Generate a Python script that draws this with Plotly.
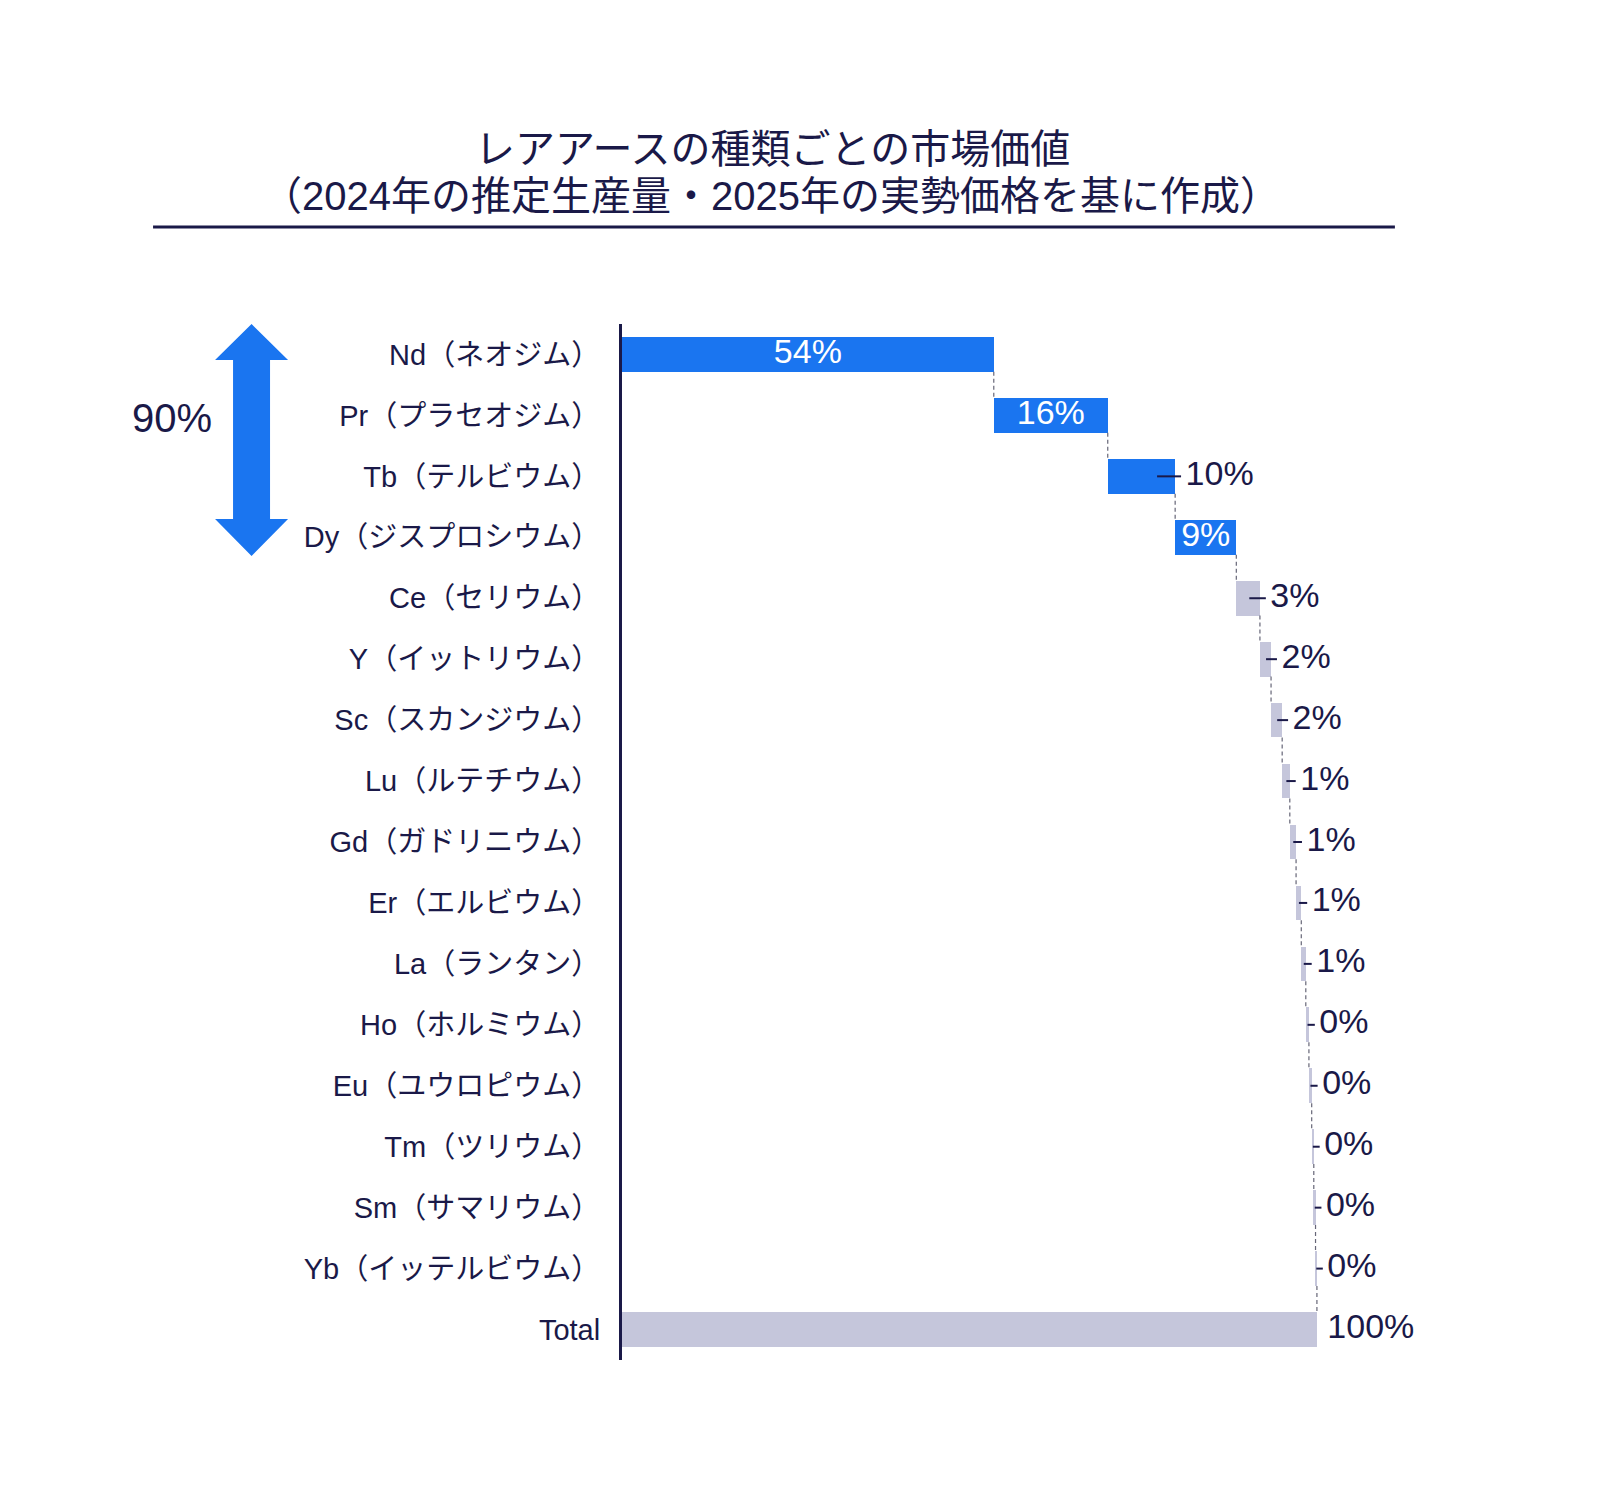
import plotly.graph_objects as go

# レアアース元素と市場価値シェア（%）
elements = [
    "Nd（ネオジム）", "Pr（プラセオジム）", "Tb（テルビウム）", "Dy（ジスプロシウム）",
    "Ce（セリウム）", "Y（イットリウム）", "Sc（スカンジウム）", "Lu（ルテチウム）",
    "Gd（ガドリニウム）", "Er（エルビウム）", "La（ランタン）", "Ho（ホルミウム）",
    "Eu（ユウロピウム）", "Tm（ツリウム）", "Sm（サマリウム）", "Yb（イッテルビウム）",
]
shares = [53.5, 16.4, 9.7, 8.8, 3.4, 1.6, 1.6, 1.1, 0.9, 0.75, 0.65, 0.45, 0.4, 0.3, 0.25, 0.2]
total_label = "Total"
top_group_label = "90%"
n_top = 4  # 上位4元素（矢印で強調）

title_line1 = "レアアースの種類ごとの市場価値"
title_line2 = "（2024年の推定生産量・2025年の実勢価格を基に作成）"

# 色・フォント
BLUE = "#1A75F0"
GREY = "#C5C6DB"
NAVY = "#1A1948"
LATIN = "Liberation Sans, Arial, Noto Sans CJK JP"

# 棒の内側にラベルを置くもの
label_inside = [True, True, False, True] + [False] * 12 + [False]

# ウォーターフォールの計算
cum = []
s = 0
for v in shares:
    s += v
    cum.append(s)
total = cum[-1]
xs = shares + [total]
bases = [c - v for c, v in zip(cum, shares)] + [0]
ends = cum + [total]
labels = elements + [total_label]
n = len(labels)
ypos = list(range(n))
texts = [f"{int(v + 0.5)}%" for v in xs]
colors = [BLUE if i < n_top else GREY for i in range(n)]
bar_w = 0.57

fig = go.Figure()

fig.add_trace(go.Bar(
    y=ypos, x=xs, base=bases, orientation="h", width=bar_w,
    marker=dict(color=colors, line=dict(width=0)),
    hoverinfo="skip", showlegend=False,
))

# コネクタ（破線）
cx, cy = [], []
for i in range(n - 1):
    cx += [cum[i], cum[i], None]
    cy += [i + bar_w / 2, i + 1 - bar_w / 2, None]
fig.add_trace(go.Scatter(
    x=cx, y=cy, mode="lines",
    line=dict(color="#666677", width=1.2, dash="4px,3px"),
    hoverinfo="skip", showlegend=False,
))

# 内側ラベル
ins = [i for i in range(n) if label_inside[i]]
fig.add_trace(go.Scatter(
    x=[bases[i] + xs[i] / 2 for i in ins], y=[ypos[i] for i in ins],
    text=[texts[i] for i in ins], mode="text", textposition="middle center",
    textfont=dict(family=LATIN, size=34, color="white"),
    hoverinfo="skip", showlegend=False,
))

# 外側ラベルと引き出し線
outs = [i for i in range(n) if not label_inside[i]]
dx, dy = [], []
for i in outs:
    if i == n - 1:
        continue
    dx += [ends[i] - min(2.6, 0.45 * xs[i]), ends[i] + 0.85, None]
    dy += [ypos[i], ypos[i], None]
fig.add_trace(go.Scatter(
    x=dx, y=dy, mode="lines", line=dict(color=NAVY, width=2),
    hoverinfo="skip", showlegend=False,
))
fig.add_trace(go.Scatter(
    x=[ends[i] + 1.5 for i in outs], y=[ypos[i] for i in outs],
    text=[texts[i] for i in outs], mode="text", textposition="middle right",
    textfont=dict(family=LATIN, size=34, color=NAVY),
    hoverinfo="skip", showlegend=False, cliponaxis=False,
))

# 画面座標 → paper 座標
L, R100, T, B = 614, 1309, 316, 1352
x_max = 118
R = L + (R100 - L) * x_max / 100
def px(x):
    return (x - L) / (R - L)
def py(y):
    return (B - y) / (B - T)

# 上下矢印
ax_l, ax_r, sh_l, sh_r = 207, 280, 225, 262
tip_t, head_t, head_b, tip_b = 316, 352, 511, 548
cx_ = (ax_l + ax_r) / 2
pts = [(cx_, tip_t), (ax_r, head_t), (sh_r, head_t), (sh_r, head_b), (ax_r, head_b),
       (cx_, tip_b), (ax_l, head_b), (sh_l, head_b), (sh_l, head_t), (ax_l, head_t)]
path = "M " + " L ".join(f"{px(a):.5f},{py(b):.5f}" for a, b in pts) + " Z"

fig.update_layout(
    width=1600, height=1502,
    margin=dict(l=L, r=1600 - R, t=T, b=1502 - B),
    plot_bgcolor="white", paper_bgcolor="white",
    bargap=0,
    xaxis=dict(range=[0, x_max], visible=False, fixedrange=True),
    yaxis=dict(
        range=[n - 0.5, -0.5], tickvals=ypos, ticktext=labels,
        showline=True, linecolor=NAVY, linewidth=3, showgrid=False, zeroline=False,
        ticks="outside", ticklen=13, tickcolor="rgba(0,0,0,0)",
        tickfont=dict(family=LATIN, size=29, color=NAVY),
    ),
    shapes=[
        dict(type="path", xref="paper", yref="paper", path=path,
             fillcolor=BLUE, line=dict(width=0)),
        dict(type="line", xref="paper", yref="paper",
             x0=px(145), x1=px(1387), y0=py(219), y1=py(219),
             line=dict(color=NAVY, width=3)),
    ],
    annotations=[
        dict(text=title_line1, xref="paper", yref="paper", x=px(765), y=py(141),
             xanchor="center", yanchor="middle", showarrow=False, borderpad=0,
             font=dict(family=LATIN, size=40, color=NAVY)),
        dict(text=title_line2, xref="paper", yref="paper", x=px(763), y=py(188),
             xanchor="center", yanchor="middle", showarrow=False, borderpad=0,
             font=dict(family=LATIN, size=40, color=NAVY)),
        dict(text=top_group_label, xref="paper", yref="paper", x=px(164), y=py(410),
             xanchor="center", yanchor="middle", showarrow=False,
             font=dict(family=LATIN, size=40, color=NAVY)),
    ],
)

fig.write_html("out.html")
